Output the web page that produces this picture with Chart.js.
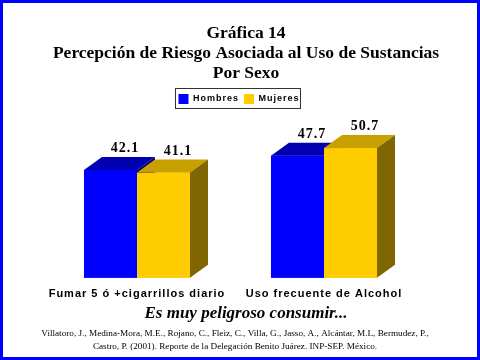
<!DOCTYPE html>
<html>
<head>
<meta charset="utf-8">
<script src="https://cdn.jsdelivr.net/npm/chart.js@4/dist/chart.umd.min.js"></script>
<style>
  html, body { margin: 0; padding: 0; background: #fff; }
  #wrap { width: 480px; height: 360px; }
</style>
</head>
<body>
<div id="wrap"><canvas id="chart" width="480" height="360"></canvas></div>
<script>
// chart data
const categories = ['Fumar 5 ó +cigarrillos diario', 'Uso frecuente de Alcohol'];
const hombres = [42.1, 47.7];
const mujeres = [41.1, 50.7];
const seriesNames = ['Hombres', 'Mujeres'];
const titleLines = ['Gráfica 14', 'Percepción de Riesgo Asociada al Uso de Sustancias', 'Por Sexo'];
const subtitleText = 'Es muy peligroso consumir...';
const citation = [
    'Villatoro, J., Medina-Mora, M.E., Rojano, C., Fleiz, C., Villa, G., Jasso, A., Alcántar, M.L, Bermudez, P.,',
    'Castro, P. (2001). Reporte de la Delegación Benito Juárez. INP-SEP. México.'
];

// face colours for the 3D look: front, top, side
const faces = [
    { front: '#0000ff', top: '#0000b0', side: '#00007a' },
    { front: '#ffcc00', top: '#c8a000', side: '#806600' }
];
const DEPTH_X = 18, DEPTH_Y = 13;
const LEGEND_SHIFT = -7;

// wraps a draw call so its text gets the wider letter spacing of the original
function spaced(ctx, fn) {
    return function () {
        const old = ctx.letterSpacing;
        ctx.letterSpacing = '1px';
        const res = fn.apply(this, arguments);
        ctx.letterSpacing = old;
        return res;
    };
}

const bars3d = {
    id: 'bars3d',
    beforeLayout(chart) {
        chart.ctx.letterSpacing = '1px';
    },
    afterLayout(chart) {
        const ctx = chart.ctx;
        ctx.letterSpacing = '0px';
        const legend = chart.legend;
        legend.left += LEGEND_SHIFT;
        legend.right += LEGEND_SHIFT;
        if (!legend._spaced) {
            legend.draw = spaced(ctx, legend.draw);
            legend._spaced = true;
        }
        const x = chart.scales.x;
        if (!x._spaced) {
            x.drawLabels = spaced(ctx, x.drawLabels);
            x._spaced = true;
        }
    },
    // draws the bars as boxes (front, top, side), then the value labels
    afterDatasetsDraw(chart) {
        const ctx = chart.ctx;
        const metas = chart.data.datasets.map((d, i) => chart.getDatasetMeta(i));
        ctx.save();
        for (let c = 0; c < categories.length; c++) {
            metas.forEach((meta, di) => {
                const el = meta.data[c];
                const f = faces[di];
                const l = el.x - el.width / 2, r = el.x + el.width / 2;
                const t = el.y, b = el.base;
                ctx.fillStyle = f.front;
                ctx.fillRect(l, t, r - l, b - t);
                ctx.fillStyle = f.top;
                ctx.beginPath();
                ctx.moveTo(l, t);
                ctx.lineTo(l + DEPTH_X, t - DEPTH_Y);
                ctx.lineTo(r + DEPTH_X, t - DEPTH_Y);
                ctx.lineTo(r, t);
                ctx.closePath();
                ctx.fill();
                ctx.fillStyle = f.side;
                ctx.beginPath();
                ctx.moveTo(r, t);
                ctx.lineTo(r + DEPTH_X, t - DEPTH_Y);
                ctx.lineTo(r + DEPTH_X, b - DEPTH_Y);
                ctx.lineTo(r, b);
                ctx.closePath();
                ctx.fill();
            });
        }
        ctx.font = 'bold 14px "Liberation Serif", "Times New Roman", serif';
        ctx.letterSpacing = '1px';
        ctx.fillStyle = '#000';
        ctx.textAlign = 'center';
        ctx.textBaseline = 'middle';
        metas.forEach((meta, di) => {
            const values = chart.data.datasets[di].data;
            meta.data.forEach((el, i) => {
                ctx.fillText(values[i].toFixed(1), el.x + DEPTH_X * 0.8, el.y - DEPTH_Y - 8.5);
            });
        });
        ctx.restore();
    },
    afterDraw(chart) {
        const ctx = chart.ctx;
        ctx.save();
        // box round the legend
        const boxes = chart.legend.legendHitBoxes;
        if (boxes && boxes.length) {
            const left = Math.min(...boxes.map(h => h.left)) - 3;
            const right = Math.max(...boxes.map(h => h.left + h.width)) + 1;
            const mid = boxes[0].top + boxes[0].height / 2;
            ctx.strokeStyle = '#333';
            ctx.lineWidth = 1;
            ctx.strokeRect(Math.round(left) + 0.5, Math.round(mid - 11) + 0.5, Math.round(right - left), 20);
        }
        // source note
        ctx.fillStyle = '#000';
        ctx.font = '9.2px "Liberation Serif", "Times New Roman", serif';
        ctx.textAlign = 'center';
        ctx.textBaseline = 'middle';
        ctx.fillText(citation[0], 235, 334);
        ctx.fillText(citation[1], 235, 347);
        // page frame
        ctx.strokeStyle = '#0000ff';
        ctx.lineWidth = 3;
        ctx.strokeRect(1.5, 1.5, 477, 357);
        ctx.restore();
    }
};

new Chart(document.getElementById('chart'), {
    type: 'bar',
    data: {
        labels: categories,
        datasets: [
            { label: seriesNames[0], data: hombres, backgroundColor: faces[0].front },
            { label: seriesNames[1], data: mujeres, backgroundColor: faces[1].front }
        ]
    },
    options: {
        responsive: false,
        animation: false,
        events: [],
        layout: { padding: { top: 23, left: 43.5, right: 31.5, bottom: 37 } },
        categoryPercentage: 0.567,
        barPercentage: 1,
        scales: {
            x: {
                grid: { display: false, drawTicks: false },
                border: { display: false },
                ticks: {
                    padding: 10,
                    color: '#000',
                    font: { family: '"Liberation Sans", Arial, sans-serif', size: 11, weight: 'bold' }
                },
                afterFit(scale) { scale.height = 23; }
            },
            y: {
                position: 'right',
                min: 0,
                max: 64,
                grid: { display: false, drawTicks: false },
                border: { display: false },
                ticks: { display: false },
                afterFit(scale) { scale.width = 31; }
            }
        },
        plugins: {
            title: {
                display: true,
                text: titleLines,
                color: '#000',
                padding: { top: 0, bottom: 6 },
                font: { family: '"Liberation Serif", "Times New Roman", serif', size: 17.5, weight: 'bold', lineHeight: 20 / 17.5 }
            },
            subtitle: {
                display: true,
                position: 'bottom',
                text: subtitleText,
                color: '#000',
                padding: { top: 3, bottom: 0 },
                font: { family: '"Liberation Serif", "Times New Roman", serif', size: 17, weight: 'bold', style: 'italic', lineHeight: 19.2 / 17 }
            },
            legend: {
                position: 'top',
                labels: {
                    color: '#000',
                    boxWidth: 10,
                    boxHeight: 10,
                    padding: 5,
                    font: { family: '"Liberation Sans", Arial, sans-serif', size: 9, weight: 'bold' }
                }
            },
            tooltip: { enabled: false }
        }
    },
    plugins: [bars3d]
});
</script>
</body>
</html>
